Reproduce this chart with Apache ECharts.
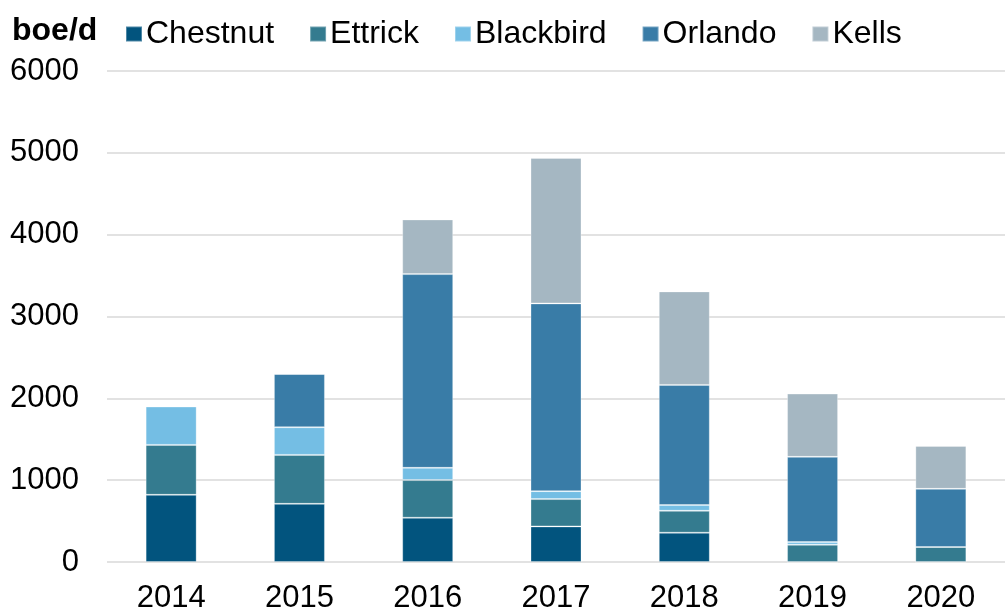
<!DOCTYPE html>
<html>
<head>
<meta charset="utf-8">
<script src="https://cdn.jsdelivr.net/npm/echarts@6/dist/echarts.min.js"></script>
<style>
	html, body { margin: 0; padding: 0; background: #fff; }
	#chart { width: 1005px; height: 614px; }
</style>
</head>
<body>
<div id="chart"></div>
<script>
// Data
var years = ['2014', '2015', '2016', '2017', '2018', '2019', '2020'];
var chestnut = [821, 711, 541, 435, 358, 0, 0];
var ettrick = [610, 598, 460, 334, 268, 211, 183];
var blackbird = [469, 338, 150, 97, 70, 33, 0];
var orlando = [0, 651, 2367, 2294, 1468, 1041, 711];
var kells = [0, 0, 668, 1778, 1143, 773, 525];
var yTicks = [0, 1000, 2000, 3000, 4000, 5000, 6000];

var font = 'Liberation Sans, Arial, sans-serif';

function Series(name, data, color) {	// one stacked bar layer
	return {
		name: name,
		type: 'bar',
		stack: 'total',
		barWidth: 51,
		data: data,
		itemStyle: {
			color: color,
			borderColor: 'rgba(255,255,255,0.3)',
			borderWidth: 1
		}
	};
}

var chart = echarts.init(document.getElementById('chart'), '', { renderer: 'canvas' });
chart.setOption({
	animation: false,
	title: {
		text: 'boe/d',
		left: 7,
		top: 10,
		textStyle: { fontFamily: font, fontSize: 32, fontWeight: 'bold', color: '#000' }
	},
	legend: {
		left: 120,
		top: 13,
		icon: 'rect',
		itemWidth: 16,
		itemHeight: 15,
		itemGap: 35,
		textStyle: { fontFamily: font, fontSize: 32, color: '#000', padding: [0, 0, 0, -1] },
		data: ['Chestnut', 'Ettrick', 'Blackbird', 'Orlando', 'Kells']
	},
	grid: {
		left: 107,
		top: 71,
		width: 906,
		bottom: 51
	},
	xAxis: {
		type: 'category',
		data: years,
		axisLine: { show: false },
		axisTick: { show: false },
		axisLabel: { fontFamily: font, fontSize: 31, color: '#000', margin: 21 }
	},
	yAxis: {
		type: 'value',
		min: yTicks[0],
		max: yTicks[yTicks.length - 1],
		interval: 1000,
		axisLine: { show: false },
		axisTick: { show: false },
		axisLabel: {
			fontFamily: font, fontSize: 31, color: '#000', margin: 28,
			formatter: function(v) { return String(v); }
		},
		splitLine: { lineStyle: { color: '#d9d9d9', width: 1.5 } }
	},
	series: [
		Series('Chestnut', chestnut, '#02547e'),
		Series('Ettrick', ettrick, '#347b8f'),
		Series('Blackbird', blackbird, '#74bee4'),
		Series('Orlando', orlando, '#397ca7'),
		Series('Kells', kells, '#a5b7c2')
	]
});
</script>
</body>
</html>
